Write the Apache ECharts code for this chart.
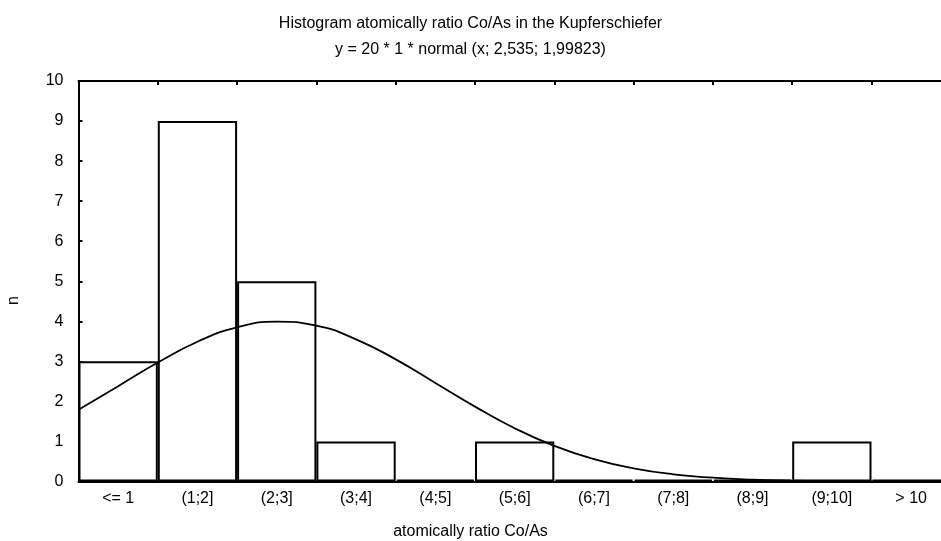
<!DOCTYPE html>
<html>
<head>
<meta charset="utf-8">
<script src="https://cdn.jsdelivr.net/npm/echarts@6/dist/echarts.min.js"></script>
<style>
  html, body { margin: 0; padding: 0; background: #fff; }
  #main { width: 941px; height: 541px; }
</style>
</head>
<body>
<div id="main"></div>
<script>
// bins and counts
const bins = ["<= 1", "(1;2]", "(2;3]", "(3;4]", "(4;5]", "(5;6]", "(6;7]", "(7;8]", "(8;9]", "(9;10]", "> 10"];
const counts = [3, 9, 5, 1, 0, 1, 0, 0, 0, 1, 0];
// fitted curve, read at x = 0, 0.5, ... 11
const curveX = [0, 0.5, 1, 1.5, 2, 2.5, 3, 3.5, 4, 4.5, 5, 5.5, 6, 6.5, 7, 7.5, 8, 8.5, 9, 9.5, 10, 10.5, 11];
const curveY = [1.79, 2.38, 2.97, 3.49, 3.85, 3.99, 3.89, 3.55, 3.05, 2.46, 1.87, 1.33, 0.89, 0.56, 0.33, 0.18, 0.095, 0.046, 0.021, 0.009, 0.004, 0.001, 0];
const yTicks = [0, 1, 2, 3, 4, 5, 6, 7, 8, 9, 10];

const font = "Liberation Sans, Arial, sans-serif";
const fs = 16;
const chart = echarts.init(document.getElementById("main"));

const curve = curveX.map((x, i) => [x, curveY[i]]);

const option = {
  animation: false,
  backgroundColor: "#fff",
  title: [
    {
      text: "Histogram atomically ratio Co/As in the Kupferschiefer",
      left: "center", top: 11,
      textStyle: { fontFamily: font, fontSize: fs, fontWeight: "normal", color: "#000" }
    },
    {
      text: "y = 20 * 1 * normal (x; 2,535; 1,99823)",
      left: "center", top: 37,
      textStyle: { fontFamily: font, fontSize: fs, fontWeight: "normal", color: "#000" }
    },
    {
      text: "atomically ratio Co/As",
      left: "center", top: 519,
      textStyle: { fontFamily: font, fontSize: fs, fontWeight: "normal", color: "#000" }
    }
  ],
  graphic: [{
    type: "text",
    left: 6, top: 296,
    rotation: Math.PI / 2,
    style: { text: "n", font: fs + "px " + font, fill: "#000" }
  }],
  // plot runs past the right edge of the picture, like the original
  grid: { left: 78.5, width: 872.3, top: 81, height: 400.5, outerBoundsMode: "none", containLabel: false },
  xAxis: [
    {
      type: "category",
      data: bins,
      boundaryGap: true,
      axisLine: { lineStyle: { color: "#000", width: 2 } },
      axisTick: { show: false },
      axisLabel: { color: "#000", fontFamily: font, fontSize: fs, margin: 9 }
    },
    {
      type: "value",
      min: 0, max: 11,
      show: false
    },
    {
      type: "category",
      data: bins,
      position: "top",
      boundaryGap: true,
      axisLine: { show: true, lineStyle: { color: "#000", width: 2 } },
      axisTick: { show: true, inside: true, length: 4, lineStyle: { color: "#000", width: 2 } },
      axisLabel: { show: false }
    }
  ],
  yAxis: {
    type: "value",
    min: 0, max: 10, interval: 1,
    axisLine: { show: true, lineStyle: { color: "#000", width: 2 } },
    axisTick: { show: true, inside: true, length: 4, lineStyle: { color: "#000", width: 2 } },
    axisLabel: { color: "#000", fontFamily: font, fontSize: fs, margin: 15 },
    splitLine: { show: false }
  },
  series: [
    {
      type: "bar",
      xAxisIndex: 0,
      data: counts,
      barCategoryGap: 0,
      barMinHeight: 2,
      itemStyle: { color: "#fff", borderColor: "#000", borderWidth: 2 },
      z: 2
    },
    {
      type: "line",
      xAxisIndex: 1,
      data: curve,
      smooth: true,
      showSymbol: false,
      lineStyle: { color: "#000", width: 1.8 },
      z: 3
    }
  ]
};
chart.setOption(option);
</script>
</body>
</html>
